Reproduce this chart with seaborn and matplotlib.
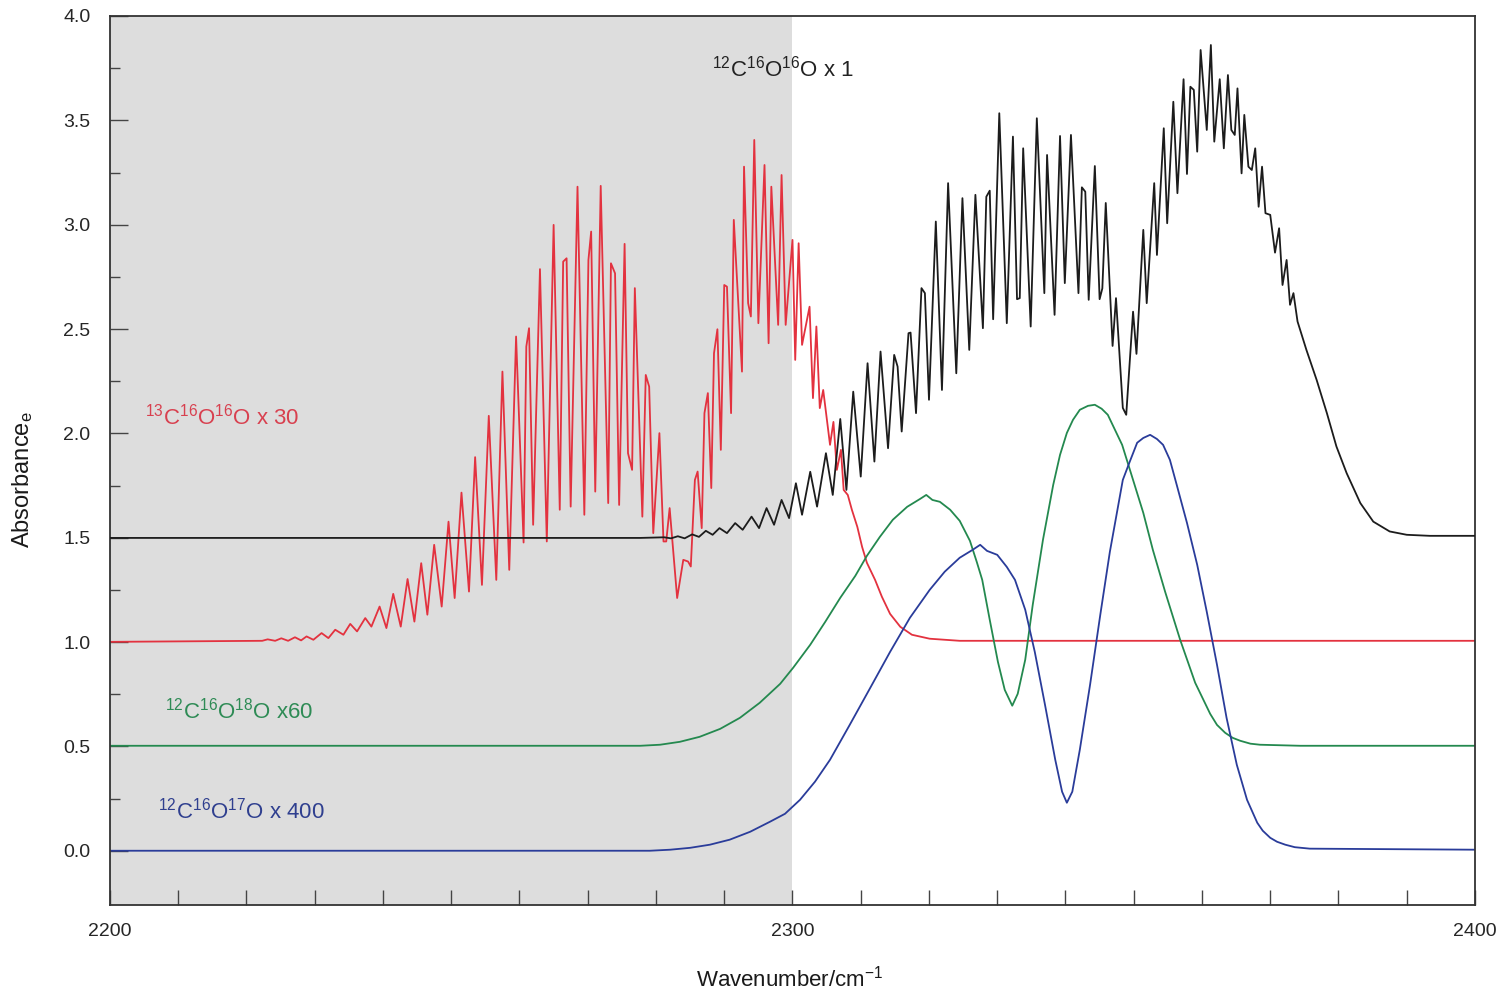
import matplotlib
matplotlib.use("Agg")
import matplotlib.pyplot as plt
import seaborn as sns
from matplotlib.ticker import MultipleLocator, FixedLocator

# ---------------- data ----------------
# 12C16O16O x 1 (offset baseline 1.5)
wn_626 = [2200.0, 2277.7, 2281.2, 2282.2, 2283.2, 2284.2, 2285.3, 2286.3, 2287.3, 2288.3,
          2289.3, 2290.4, 2291.6, 2292.7, 2294.0, 2295.1, 2296.2, 2297.3, 2298.4, 2299.5,
          2300.5, 2301.4, 2302.6, 2303.6, 2304.9, 2305.9, 2307.0, 2307.9, 2308.9, 2310.0,
          2311.0, 2312.0, 2312.9, 2314.0, 2314.9, 2315.4, 2316.0, 2317.0, 2317.3, 2318.1,
          2318.9, 2319.4, 2320.0, 2321.0, 2321.9, 2322.8, 2324.0, 2324.9, 2325.9, 2326.8,
          2327.9, 2328.4, 2328.9, 2329.4, 2330.3, 2331.4, 2332.3, 2332.9, 2333.3, 2333.8,
          2334.9, 2335.8, 2336.9, 2337.3, 2338.4, 2339.2, 2339.9, 2340.8, 2341.9, 2342.4,
          2342.9, 2343.4, 2344.3, 2345.0, 2345.4, 2345.9, 2346.9, 2347.4, 2348.4, 2348.9,
          2349.9, 2350.4, 2351.4, 2351.9, 2353.0, 2353.4, 2354.4, 2354.9, 2355.8, 2356.4,
          2357.3, 2357.8, 2358.3, 2358.8, 2359.3, 2359.8, 2360.7, 2361.3, 2361.8, 2362.6,
          2363.2, 2363.8, 2364.3, 2364.8, 2365.2, 2365.8, 2366.2, 2366.8, 2367.3, 2367.8,
          2368.3, 2368.8, 2369.3, 2370.0, 2370.7, 2371.3, 2371.8, 2372.4, 2372.9, 2373.4,
          2374.0, 2375.3, 2376.8, 2378.3, 2379.7, 2381.2, 2383.2, 2385.1, 2387.5, 2390.0,
          2393.4, 2400.0]
abs_626 = [1.499, 1.499, 1.502, 1.497, 1.507, 1.497, 1.516, 1.504, 1.533, 1.514,
           1.546, 1.522, 1.570, 1.538, 1.601, 1.546, 1.642, 1.562, 1.681, 1.594,
           1.761, 1.610, 1.816, 1.649, 1.905, 1.705, 2.069, 1.729, 2.200, 1.793,
           2.336, 1.865, 2.392, 1.929, 2.376, 2.320, 2.009, 2.480, 2.483, 2.097,
           2.696, 2.672, 2.161, 3.015, 2.208, 3.199, 2.288, 3.127, 2.400, 3.143,
           2.504, 3.134, 3.163, 2.547, 3.534, 2.528, 3.422, 2.643, 2.648, 3.366,
           2.512, 3.510, 2.672, 3.334, 2.568, 3.425, 2.720, 3.430, 2.672, 3.179,
           3.158, 2.640, 3.281, 2.643, 2.695, 3.104, 2.419, 2.648, 2.122, 2.089,
           2.583, 2.381, 2.975, 2.624, 3.199, 2.855, 3.462, 3.007, 3.589, 3.151,
           3.697, 3.243, 3.661, 3.646, 3.350, 3.837, 3.454, 3.861, 3.398, 3.697,
           3.366, 3.717, 3.454, 3.430, 3.653, 3.246, 3.526, 3.278, 3.262, 3.366,
           3.086, 3.278, 3.055, 3.047, 2.866, 2.983, 2.711, 2.831, 2.616, 2.672,
           2.536, 2.400, 2.256, 2.097, 1.937, 1.809, 1.666, 1.577, 1.530, 1.514,
           1.509, 1.509]

# 13C16O16O x 30 (offset baseline 1.0)
wn_636 = [2200.0, 2220.5, 2222.3, 2223.1, 2224.2, 2225.1, 2226.1, 2227.1, 2228.0, 2228.8,
          2229.8, 2231.0, 2232.0, 2233.0, 2234.2, 2235.2, 2236.2, 2237.4, 2238.3, 2239.5,
          2240.5, 2241.5, 2242.6, 2243.6, 2244.6, 2245.6, 2246.5, 2247.5, 2248.6, 2249.6,
          2250.5, 2251.5, 2252.6, 2253.5, 2254.5, 2255.5, 2256.6, 2257.5, 2258.5, 2259.5,
          2260.6, 2261.0, 2261.4, 2262.0, 2263.0, 2264.0, 2265.0, 2265.9, 2266.4, 2266.9,
          2267.5, 2268.5, 2269.5, 2270.1, 2270.5, 2271.1, 2271.9, 2273.0, 2273.4, 2274.0,
          2274.6, 2275.4, 2275.9, 2276.5, 2276.9, 2278.0, 2278.5, 2279.0, 2279.6, 2280.5,
          2281.1, 2281.5, 2282.0, 2283.1, 2284.0, 2284.7, 2285.1, 2285.7, 2286.1, 2286.7,
          2287.1, 2287.6, 2288.1, 2288.5, 2289.0, 2289.5, 2290.0, 2290.4, 2291.0, 2291.4,
          2292.6, 2292.9, 2293.5, 2293.9, 2294.4, 2295.0, 2295.9, 2296.5, 2296.9, 2297.9,
          2298.4, 2299.0, 2300.0, 2300.4, 2300.9, 2301.4, 2302.5, 2303.0, 2303.5, 2304.0,
          2304.5, 2305.5, 2306.0, 2306.5, 2307.1, 2307.5, 2308.1, 2308.7, 2309.5, 2310.2,
          2310.9, 2312.1, 2313.1, 2314.3, 2315.8, 2317.5, 2320.1, 2324.5, 2400.0]
abs_636 = [1.001, 1.006, 1.006, 1.013, 1.006, 1.018, 1.006, 1.023, 1.008, 1.027,
           1.011, 1.043, 1.019, 1.059, 1.035, 1.087, 1.051, 1.115, 1.074, 1.170,
           1.067, 1.231, 1.074, 1.302, 1.098, 1.378, 1.131, 1.466, 1.170, 1.577,
           1.211, 1.716, 1.242, 1.886, 1.274, 2.084, 1.298, 2.296, 1.346, 2.464,
           1.477, 2.416, 2.504, 1.562, 2.787, 1.482, 2.999, 1.634, 2.823, 2.839,
           1.649, 3.182, 1.610, 2.831, 2.967, 1.721, 3.186, 1.666, 2.815, 2.767,
           1.657, 2.908, 1.905, 1.825, 2.696, 1.601, 2.280, 2.224, 1.522, 2.001,
           1.482, 1.482, 1.642, 1.211, 1.394, 1.386, 1.362, 1.777, 1.817, 1.546,
           2.097, 2.193, 1.738, 2.384, 2.499, 1.921, 2.711, 2.703, 2.097, 3.023,
           2.296, 3.278, 2.624, 2.560, 3.406, 2.528, 3.286, 2.432, 3.182, 2.520,
           3.238, 2.520, 2.927, 2.352, 2.911, 2.424, 2.607, 2.169, 2.512, 2.121,
           2.208, 1.945, 2.055, 1.825, 1.921, 1.729, 1.705, 1.634, 1.552, 1.456,
           1.380, 1.298, 1.217, 1.135, 1.073, 1.035, 1.016, 1.006, 1.006]

# 12C16O18O x 60 (offset baseline 0.5)
wn_628 = [2200.0, 2277.7, 2280.6, 2283.5, 2286.4, 2289.4, 2292.3, 2295.2, 2298.2, 2300.1,
          2302.6, 2304.8, 2307.0, 2309.2, 2310.9, 2312.8, 2314.7, 2316.8, 2318.7, 2319.6,
          2320.5, 2321.6, 2323.1, 2324.5, 2326.0, 2327.0, 2327.8, 2328.9, 2330.1, 2331.1,
          2332.2, 2333.0, 2334.1, 2335.2, 2336.7, 2338.2, 2339.2, 2340.2, 2341.1, 2342.1,
          2343.3, 2344.3, 2345.3, 2346.2, 2348.3, 2349.9, 2351.4, 2352.8, 2354.6, 2356.8,
          2359.0, 2361.2, 2362.2, 2363.4, 2364.5, 2365.6, 2367.1, 2368.5, 2374.4, 2400.0]
abs_628 = [0.503, 0.503, 0.508, 0.522, 0.546, 0.584, 0.637, 0.709, 0.800, 0.877,
           0.987, 1.097, 1.212, 1.317, 1.413, 1.504, 1.586, 1.648, 1.686, 1.705,
           1.681, 1.672, 1.634, 1.581, 1.485, 1.384, 1.298, 1.107, 0.905, 0.771,
           0.695, 0.752, 0.915, 1.178, 1.490, 1.753, 1.897, 2.002, 2.065, 2.113,
           2.132, 2.137, 2.118, 2.089, 1.945, 1.777, 1.619, 1.442, 1.241, 1.011,
           0.805, 0.656, 0.603, 0.565, 0.541, 0.527, 0.513, 0.508, 0.503, 0.503]

# 12C16O17O x 400 (baseline 0.0)
wn_627 = [2200.0, 2279.1, 2282.1, 2285.0, 2287.9, 2290.8, 2293.8, 2296.7, 2298.9, 2301.1,
          2303.3, 2305.5, 2308.4, 2311.4, 2314.3, 2317.2, 2320.1, 2322.3, 2324.5, 2326.4,
          2327.5, 2328.5, 2330.0, 2331.4, 2332.6, 2334.1, 2335.5, 2337.0, 2338.5, 2339.5,
          2340.2, 2341.0, 2342.1, 2343.6, 2345.1, 2346.5, 2348.4, 2349.4, 2350.5, 2351.4,
          2352.4, 2353.4, 2354.3, 2355.3, 2356.3, 2357.8, 2359.3, 2360.7, 2362.2, 2363.6,
          2365.1, 2366.6, 2368.1, 2368.9, 2370.0, 2371.0, 2372.2, 2373.6, 2375.8, 2400.0]
abs_627 = [0.000, 0.000, 0.005, 0.014, 0.029, 0.053, 0.091, 0.139, 0.177, 0.244,
           0.331, 0.436, 0.604, 0.781, 0.953, 1.116, 1.250, 1.337, 1.404, 1.442,
           1.466, 1.437, 1.418, 1.360, 1.298, 1.155, 0.953, 0.699, 0.436, 0.283,
           0.230, 0.283, 0.484, 0.795, 1.131, 1.432, 1.777, 1.863, 1.955, 1.978,
           1.993, 1.973, 1.945, 1.873, 1.753, 1.571, 1.370, 1.145, 0.891, 0.637,
           0.412, 0.244, 0.134, 0.096, 0.062, 0.043, 0.029, 0.017, 0.010, 0.005]

series_labels = ["$^{12}$C$^{16}$O$^{16}$O x 1",
                 "$^{13}$C$^{16}$O$^{16}$O x 30",
                 "$^{12}$C$^{16}$O$^{18}$O x60",
                 "$^{12}$C$^{16}$O$^{17}$O x 400"]
label_pos = [(2288.2, 3.75), (2205.1, 2.08), (2208.1, 0.672), (2207.0, 0.192)]
x_ticks = [2200, 2300, 2400]
y_ticks = [0.0, 0.5, 1.0, 1.5, 2.0, 2.5, 3.0, 3.5, 4.0]
shade_span = (2200, 2300)

# ---------------- style ----------------
sns.set_theme(style="white")
plt.rcParams["font.family"] = ["Liberation Sans", "DejaVu Sans"]
plt.rcParams["mathtext.fontset"] = "custom"
plt.rcParams["mathtext.rm"] = "Liberation Sans"
plt.rcParams["mathtext.it"] = "Liberation Sans:italic"
plt.rcParams["mathtext.default"] = "regular"

c_black = "#1c1c1c"
c_red = "#e3323f"
c_green = "#24894f"
c_blue = "#2a3c9a"
label_colors = ["#222222", "#d8404f", "#2e8b55", "#2f3f8f"]

fig = plt.figure(figsize=(15.01, 9.93), dpi=100)
ax = fig.add_axes([0.07328, 0.08862, 0.90939, 0.89527])

ax.axvspan(*shade_span, color="#dddddd", zorder=0, lw=0)

lw = 1.3
line_kw = dict(linewidth=lw, sort=False, estimator=None, solid_joinstyle="round")
sns.lineplot(x=wn_626, y=abs_626, ax=ax, color=c_black, zorder=3, **line_kw)
sns.lineplot(x=wn_636, y=abs_636, ax=ax, color=c_red, zorder=2, **line_kw)
sns.lineplot(x=wn_628, y=abs_628, ax=ax, color=c_green, zorder=2, **line_kw)
sns.lineplot(x=wn_627, y=abs_627, ax=ax, color=c_blue, zorder=2, **line_kw)

for txt, (xx, yy), col in zip(series_labels, label_pos, label_colors):
    ax.text(xx, yy, txt, color=col, fontsize=16, ha="left", va="center", zorder=5)

ax.set_xlim(2200, 2400)
ax.set_ylim(-0.26, 4.0)

ax.xaxis.set_major_locator(FixedLocator(x_ticks))
ax.xaxis.set_minor_locator(MultipleLocator(10))
ax.yaxis.set_major_locator(FixedLocator(y_ticks))
ax.yaxis.set_minor_locator(FixedLocator([0.25 + 0.5 * i for i in range(8)]))
ax.set_xticklabels([str(t) for t in x_ticks])
ax.set_yticklabels([f"{t:.1f}" for t in y_ticks])

ax.tick_params(axis="x", which="both", direction="in", length=10.5, width=1.0,
               color="#444444", labelsize=14, pad=13, bottom=True, top=False)
ax.tick_params(axis="y", which="major", direction="in", length=13, width=1.0,
               color="#444444", labelsize=14, pad=14, left=True, right=False)
ax.tick_params(axis="y", which="minor", direction="in", length=7, width=1.0,
               color="#444444", left=True, right=False)

for sp in ax.spines.values():
    sp.set_color("#333333")
    sp.set_linewidth(1.3)
    sp.set_visible(True)

ax.set_xlabel("Wavenumber/cm$^{-1}$", fontsize=16, color="#1a1a1a")
ax.xaxis.set_label_coords(0.498, -0.068)
ax.set_ylabel("Absorbance$_e$", fontsize=17, color="#1a1a1a", va="center")
ax.yaxis.set_label_coords(-0.064, 0.478)

fig.savefig("out.png", dpi=100)
